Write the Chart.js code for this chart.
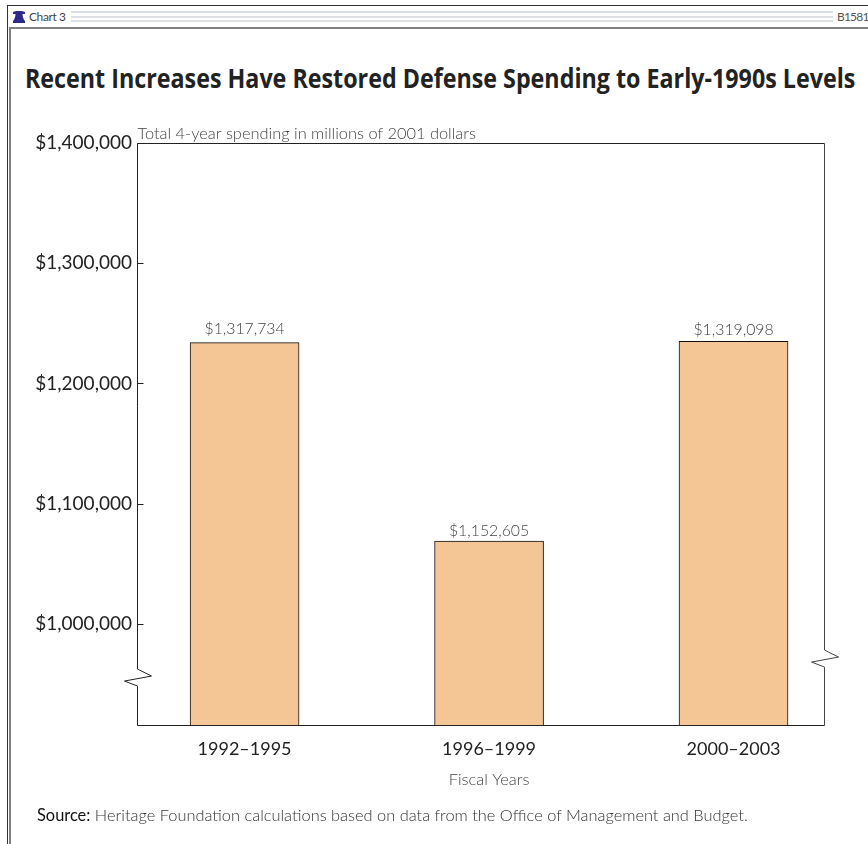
<!DOCTYPE html>
<html>
<head>
<meta charset="utf-8">
<script src="https://cdn.jsdelivr.net/npm/chart.js@4"></script>
<style>
    html, body { margin: 0; padding: 0; background: #fff; width: 868px; height: 844px; overflow: hidden; }
    body { position: relative; font-family: Lato, sans-serif; color: #333; }
    #chart { position: absolute; left: 0; top: 0; }
    .abs { position: absolute; white-space: nowrap; }
    #frameTop { left: 7px; top: 5px; right: 0; height: 1px; background: #333; }
    #frameLeft { left: 7px; top: 5px; bottom: 0; width: 1px; background: #333; }
    #frameLeft2 { left: 9px; top: 27px; bottom: 0; width: 2px; background: #808080; }
    #frameBar { left: 9px; top: 27px; right: 0; height: 2px; background: #808080; }
    .stripe { left: 71px; width: 762px; height: 2px; background: #dde1e6; }
    #bell { left: 13px; top: 11px; }
    #chartNo { left: 29px; top: 9px; font-size: 12px; line-height: 16px; color: #444; letter-spacing: -0.4px; }
    #pubNo { left: 837px; top: 9px; font-size: 12px; line-height: 16px; color: #555; letter-spacing: -0.8px; }
    #title { left: 25px; top: 60px; font: bold 26px/36px "Open Sans", sans-serif; color: #222; transform-origin: left top; transform: scaleX(0.895); }
    #source { left: 37px; top: 805px; font-size: 16.4px; line-height: 20px; font-weight: 300; color: #333; }
    #source b { font-weight: 400; color: #111; }
</style>
</head>
<body>
<div class="abs" id="frameTop"></div>
<div class="abs" id="frameLeft"></div>
<div class="abs" id="frameLeft2"></div>
<div class="abs" id="frameBar"></div>
<div class="abs stripe" style="top:11px"></div>
<div class="abs stripe" style="top:16px"></div>
<div class="abs stripe" style="top:20px"></div>
<svg class="abs" id="bell" width="12" height="12" viewBox="0 0 12 12">
    <path d="M0 1.5C0 0.5 2 0 6 0C10 0 12 0.5 12 1.5V3H9.5C9.7 6 10.5 8.5 12 10V12H0V10C1.5 8.5 2.3 6 2.5 3H0Z" fill="#2e2a8c"/>
</svg>
<div class="abs" id="chartNo">Chart 3</div>
<div class="abs" id="pubNo">B1581</div>
<div class="abs" id="title">Recent Increases Have Restored Defense Spending to Early-1990s Levels</div>
<canvas id="chart" width="868" height="844"></canvas>
<div class="abs" id="source"><b>Source:</b> Heritage Foundation calculations based on data from the Office of Management and Budget.</div>

<script>
// data
const periods = ['1992–1995', '1996–1999', '2000–2003'];
const periodSlots = [1, 2, 3];
// bar tops as they sit against the printed axis
const barValues = [1234000, 1069000, 1235000];
// numbers printed above the bars (the source picture draws them ~83,000 above where the bars read)
const barLabels = ['$1,317,734', '$1,152,605', '$1,319,098'];
const yTicks = [1000000, 1100000, 1200000, 1300000, 1400000];
const yMin = 916000;
const yMax = 1400000;
const subtitle = 'Total 4-year spending in millions of 2001 dollars';
const xTitle = 'Fiscal Years';

// gap between bar top and its label, not even in the original
const labelGaps = [9, 5, 6];

function money(value) {
    return '$' + value.toLocaleString('en-US');
}

// frame, inner tick marks, axis breaks, value labels, subtitle
const decorations = {
    id: 'decorations',
    afterDatasetsDraw(chart) {
        const { ctx, chartArea: area, scales } = chart;
        const left = Math.floor(area.left) + 0.5;
        const right = Math.floor(area.right) + 0.5;
        const top = Math.floor(area.top) + 0.5;
        const bottom = Math.floor(area.bottom) + 0.5;
        const breakLeft = scales.y.getPixelForValue(956700);
        const breakRight = scales.y.getPixelForValue(972500);

        ctx.save();
        ctx.lineWidth = 1;
        ctx.strokeStyle = '#222';

        // bottom axis, top edge and the left edge with its break
        ctx.beginPath();
        ctx.moveTo(right, top);
        ctx.lineTo(left, top);
        ctx.lineTo(left, breakLeft - 7);
        ctx.lineTo(left + 14, breakLeft);
        ctx.lineTo(left - 13, breakLeft + 5);
        ctx.lineTo(left, breakLeft + 10);
        ctx.lineTo(left, bottom);
        ctx.lineTo(right, bottom);
        ctx.stroke();

        // right edge with its break
        ctx.strokeStyle = '#444';
        ctx.beginPath();
        ctx.moveTo(right, top);
        ctx.lineTo(right, breakRight - 7);
        ctx.lineTo(right + 14, breakRight);
        ctx.lineTo(right - 13, breakRight + 5);
        ctx.lineTo(right, breakRight + 10);
        ctx.lineTo(right, bottom);
        ctx.stroke();

        // tick marks point into the plot
        ctx.strokeStyle = '#222';
        yTicks.forEach(tick => {
            const y = Math.round(scales.y.getPixelForValue(tick)) + 0.5;
            ctx.beginPath();
            ctx.moveTo(left, y);
            ctx.lineTo(left + 6, y);
            ctx.stroke();
        });

        ctx.fillStyle = '#444';
        ctx.font = '300 16.4px Lato';
        ctx.textBaseline = 'alphabetic';

        ctx.textAlign = 'left';
        ctx.fillText(subtitle, left, top - 5);

        ctx.textAlign = 'center';
        ctx.fillText(xTitle, scales.x.getPixelForValue(periodSlots[1]), bottom + 59);

        ctx.font = '300 15.8px Lato';
        barValues.forEach((value, i) => {
            const x = scales.x.getPixelForValue(periodSlots[i]);
            ctx.fillText(barLabels[i], x, scales.y.getPixelForValue(value) - labelGaps[i]);
        });
        ctx.restore();
    }
};

new Chart(document.getElementById('chart'), {
    type: 'bar',
    data: {
        datasets: [{
            data: periodSlots.map((slot, i) => ({ x: slot, y: barValues[i] })),
            backgroundColor: '#f4c595',
            borderColor: '#111',
            borderWidth: 1,
            barThickness: 109
        }]
    },
    options: {
        responsive: false,
        animation: false,
        layout: { padding: { top: 143, right: 44, bottom: 49, left: 0 } },
        plugins: { legend: { display: false }, tooltip: { enabled: false } },
        scales: {
            x: {
                type: 'linear',
                offset: false,
                min: 0.56,
                max: 3.37,
                grid: { display: false, drawTicks: false },
                border: { display: false },
                afterBuildTicks(scale) {
                    scale.ticks = periodSlots.map(slot => ({ value: slot }));
                },
                afterFit(scale) {
                    scale.height = 70;
                },
                ticks: {
                    autoSkip: false,
                    maxRotation: 0,
                    padding: 13,
                    color: '#222',
                    font: { family: 'Lato', size: 18 },
                    callback: value => periods[periodSlots.indexOf(value)]
                }
            },
            y: {
                min: yMin,
                max: yMax,
                grid: { display: false, drawTicks: false },
                border: { display: false },
                afterBuildTicks(scale) {
                    scale.ticks = yTicks.map(value => ({ value }));
                },
                afterFit(scale) {
                    scale.width = 137;
                },
                ticks: {
                    padding: 5,
                    color: '#222',
                    font: { family: 'Lato', size: 19 },
                    callback: value => money(value)
                }
            }
        }
    },
    plugins: [decorations]
});
</script>
</body>
</html>
